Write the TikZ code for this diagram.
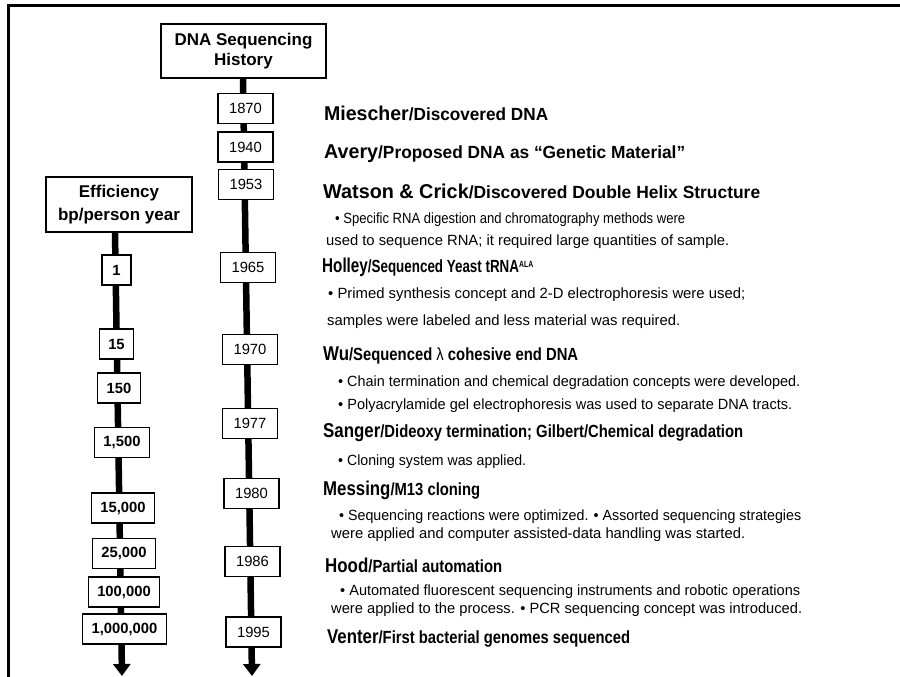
\documentclass[tikz,border=0pt]{standalone}
\usepackage{fontspec}
\usepackage{graphicx}
\setmainfont{Liberation Sans}
\usetikzlibrary{arrows.meta, backgrounds}

\begin{document}
\begin{tikzpicture}[x=1pt, y=-1pt,
		titlebox/.style={draw, line width=1.4pt, fill=white, align=center, minimum width=165pt, minimum height=54pt, font=\fontsize{17}{20}\selectfont\bfseries},
		effbox/.style={draw, line width=1.4pt, fill=white, align=center, minimum width=146pt, minimum height=55pt, font=\fontsize{17}{23}\selectfont\bfseries},
		yearbox/.style={draw, line width=1.3pt, fill=white, minimum width=55pt, minimum height=30pt, font=\fontsize{14.8}{16}\selectfont},
		numbox/.style={draw, line width=1.3pt, fill=white, minimum width=29pt, minimum height=30pt, inner xsep=9pt, font=\fontsize{14.8}{16}\selectfont\bfseries},
		spine/.style={line width=6.5pt, -{Triangle[width=17pt,length=12pt]}},
		txt/.style={anchor=base west, inner sep=0pt}]
				\newcommand{\myfontname}[1]{%
					\fontsize{20}{20}\selectfont\bfseries{#1}%
				}\newcommand{\myfontdesc}[1]{%
					\fontsize{17.6}{20}\selectfont\bfseries{#1}%
				}\newcommand{\myfontbullet}[1]{%
					\fontsize{14.8}{16}\selectfont{#1}%
				}\newcommand{\myfit}[2]{%
					\resizebox{#1pt}{\height}{#2}%
				}%Page size
				\useasboundingbox (0,0) rectangle (900,677);
				%Frame, only the top and the left side
				\draw[line width=3pt] (8,677) -- (8,6) -- (900,6);
				%Year column
				\node [titlebox] (title) at (243.5,51) {DNA Sequencing\\History};
				\node [yearbox] (y1870) at (245.5,108.5) {1870};
				\node [yearbox] (y1940) at (245.5,147) {1940};
				\node [yearbox] (y1953) at (246,184.5) {1953};
				\node [yearbox] (y1965) at (248,267.5) {1965};
				\node [yearbox] (y1970) at (250,349.5) {1970};
				\node [yearbox] (y1977) at (250,423.5) {1977};
				\node [yearbox] (y1980) at (251.5,493.5) {1980};
				\node [yearbox] (y1986) at (252.5,561.5) {1986};
				\node [yearbox] (y1995) at (253.5,632) {1995};
				\coordinate (rtip) at (252,676);
				%Efficiency column
				\node [effbox] (eff) at (119,204.5) {Efficiency\\bp/person year};
				\node [numbox] (e1) at (116.5,270) {1};
				\node [numbox] (e15) at (116.5,344) {15};
				\node [numbox] (e150) at (119,388) {150};
				\node [numbox] (e1500) at (122,442.5) {1,500};
				\node [numbox] (e15000) at (123,508) {15,000};
				\node [numbox] (e25000) at (124,553.5) {25,000};
				\node [numbox] (e100000) at (124,592) {100,000};
				\node [numbox] (e1000000) at (124.5,629) {1,000,000};
				\coordinate (ltip) at (122,676);
				%The two spines, behind the boxes
				\begin{scope}[on background layer]
					\draw [spine] ([xshift=-0.5pt]title.south) -- (rtip);
					\draw [spine] ([xshift=-4pt]eff.south) -- (ltip);
				\end{scope}
				%Events
				\node [txt] (miescher) at (324,120) {\myfit{224}{\myfontname{Miescher}\myfontdesc{/Discovered DNA}}};
				\node [txt] (avery) at (324,158) {\myfit{361}{\myfontname{Avery}\myfontdesc{/Proposed DNA as “Genetic Material”}}};
				\node [txt] (watson) at (323,198) {\myfit{437}{\myfontname{Watson \& Crick}\myfontdesc{/Discovered Double Helix Structure}}};
				\node [txt] (watsonA) at (335,223) {\myfit{350}{\myfontbullet{• Specific RNA digestion and chromatography methods were}}};
				\node [txt] (watsonB) at (326,245) {\myfit{403}{\myfontbullet{used to sequence RNA; it required large quantities of sample.}}};
				\node [txt] (holley) at (322,272) {\myfit{211}{\myfontname{Holley}\myfontdesc{/Sequenced Yeast tRNA\raisebox{5pt}{\fontsize{9}{9}\selectfont ALA}}}};
				\node [txt] (holleyA) at (328,298) {\myfit{417}{\myfontbullet{• Primed synthesis concept and 2-D electrophoresis were used;}}};
				\node [txt] (holleyB) at (327,325) {\myfit{353}{\myfontbullet{samples were labeled and less material was required.}}};
				\node [txt] (wu) at (323,360) {\myfit{255}{\myfontname{Wu}\myfontdesc{/Sequenced {\mdseries λ} cohesive end DNA}}};
				\node [txt] (wuA) at (338,386) {\myfit{462}{\myfontbullet{• Chain termination and chemical degradation concepts were developed.}}};
				\node [txt] (wuB) at (338,409) {\myfit{454}{\myfontbullet{• Polyacrylamide gel electrophoresis was used to separate DNA tracts.}}};
				\node [txt] (sanger) at (323,437) {\myfit{420}{\myfontname{Sanger}\myfontdesc{/Dideoxy termination; Gilbert/Chemical degradation}}};
				\node [txt] (sangerA) at (338,465) {\myfit{188}{\myfontbullet{• Cloning system was applied.}}};
				\node [txt] (messing) at (323,495) {\myfit{157}{\myfontname{Messing}\myfontdesc{/M13 cloning}}};
				\node [txt] (messingA) at (339,520) {\myfit{462}{\myfontbullet{• Sequencing reactions were optimized. • Assorted sequencing strategies}}};
				\node [txt] (messingB) at (331,538) {\myfit{414}{\myfontbullet{were applied and computer assisted-data handling was started.}}};
				\node [txt] (hood) at (325,572) {\myfit{177}{\myfontname{Hood}\myfontdesc{/Partial automation}}};
				\node [txt] (hoodA) at (340,595) {\myfit{460}{\myfontbullet{• Automated fluorescent sequencing instruments and robotic operations}}};
				\node [txt] (hoodB) at (331,613) {\myfit{471}{\myfontbullet{were applied to the process. • PCR sequencing concept was introduced.}}};
				\node [txt] (venter) at (327,643) {\myfit{303}{\myfontname{Venter}\myfontdesc{/First bacterial genomes sequenced}}};
				\end{tikzpicture}
\end{document}
